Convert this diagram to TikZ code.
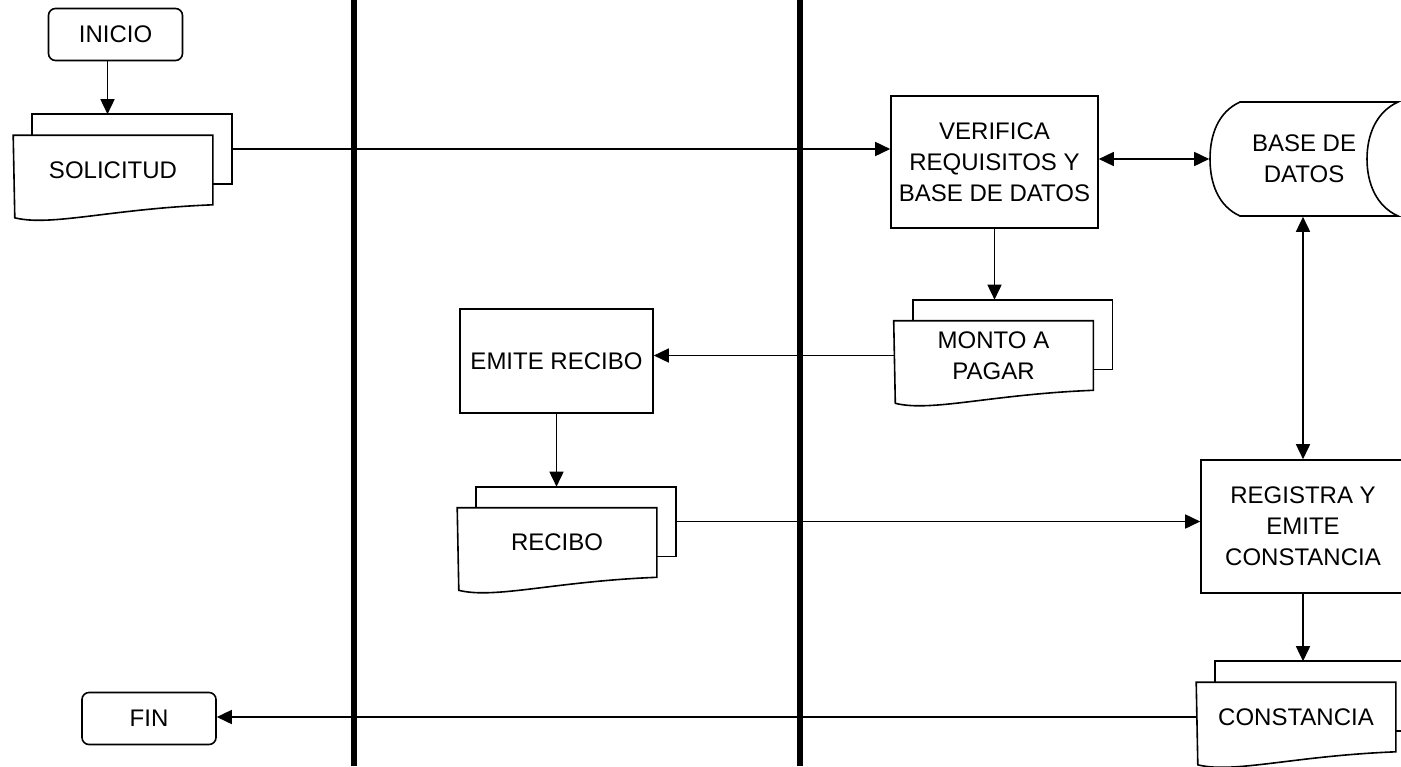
\documentclass[tikz,border=0pt]{standalone}
\usepackage{fontspec}
\setmainfont{Liberation Sans}
\usetikzlibrary{arrows.meta}

% two sheets: front page (#1) and the one behind it (#1-b)
\newcommand\hojas[1]{%
  \draw (#1-b.north west |- #1.north) -- (#1-b.north west) -- (#1-b.north east) -- (#1-b.south east) -- (#1.east |- #1-b.south);
  \draw (#1.north west) -- (#1.north east) -- (#1.south east)
    .. controls ([shift={(-102,4)}]#1.south east) and ([shift={(-162,22)}]#1.south east) .. ([shift={(-198,13)}]#1.south east) -- cycle;}

\begin{document}
\begin{tikzpicture}[x=.5pt,y=-.5pt,line width=.8pt,font=\fontsize{12}{15.5}\selectfont,
  >={Triangle[length=7.5pt,width=7pt]},
  terminal/.style={draw,rounded corners=3.5pt,minimum width=67pt,minimum height=26pt,inner sep=0pt},
  proc/.style={draw,align=center,inner sep=0pt},
  hoja/.style={minimum width=99pt,minimum height=34pt,inner sep=0pt,align=center}]
\useasboundingbox (0,0) rectangle (1401,766);
\clip (0,0) rectangle (1401,766);
\draw[line width=3pt] (354,0)--(354,766) (800,0)--(800,766);
\node[terminal] (inicio) at (115.5,34.5) {INICIO};
\node[terminal] (fin) at (149,718.5) {FIN};
\node[hoja] (sol) at (113,170) {SOLICITUD};
\node[hoja] (sol-b) at ([shift={(19,-21)}]sol) {};
\node[hoja] (mon) at (993.5,355.5) {MONTO A\\PAGAR};
\node[hoja] (mon-b) at ([shift={(19,-21)}]mon) {};
\node[hoja] (rec) at (557,542.5) {RECIBO};
\node[hoja] (rec-b) at ([shift={(19,-21)}]rec) {};
\node[hoja] (con) at (1296,717) {CONSTANCIA};
\node[hoja] (con-b) at ([shift={(19,-21)}]con) {};
\hojas{sol} \hojas{mon} \hojas{rec} \hojas{con}
\node[proc,minimum width=103.5pt,minimum height=66pt] (ver) at (994.5,162) {VERIFICA\\REQUISITOS Y\\BASE DE DATOS};
\node[proc,minimum width=96.5pt,minimum height=52pt] (emi) at (556.5,361) {EMITE RECIBO};
\node[proc,minimum width=102pt,minimum height=66.5pt] (reg) at (1303,526.5) {REGISTRA Y\\EMITE\\CONSTANCIA};
\node[hoja,minimum width=94pt,minimum height=57pt] (bd) at (1304,159) {BASE DE\\DATOS};
\draw (1240,102) -- (1398,102) .. controls (1376,112) and (1367,135) .. (1367,159)
  .. controls (1367,183) and (1376,206) .. (1398,216) -- (1240,216)
  .. controls (1218,206) and (1210,183) .. (1210,159) .. controls (1210,135) and (1218,112) .. cycle;
\draw[->] ([shift={(-8,0)}]inicio.south) -- ([shift={(-8,0)}]inicio.south |- sol-b.north);
\draw[->] (sol-b.east) -- (sol-b.east -| ver.west);
\draw[<->] (bd.west -| ver.east) -- (bd.west);
\draw[->] (ver.south) -- (ver.south |- mon-b.north);
\draw[->] (mon.west) -- (mon.west -| emi.east);
\draw[->] (emi.south) -- (emi.south |- rec-b.north);
\draw[->] (rec-b.east) -- (rec-b.east -| reg.west);
\draw[<->] (reg.north |- bd.south) -- (reg.north);
\draw[->] (reg.south) -- (reg.south |- con-b.north);
\draw[->] (con.west) -- (con.west -| fin.east);
\end{tikzpicture}
\end{document}
